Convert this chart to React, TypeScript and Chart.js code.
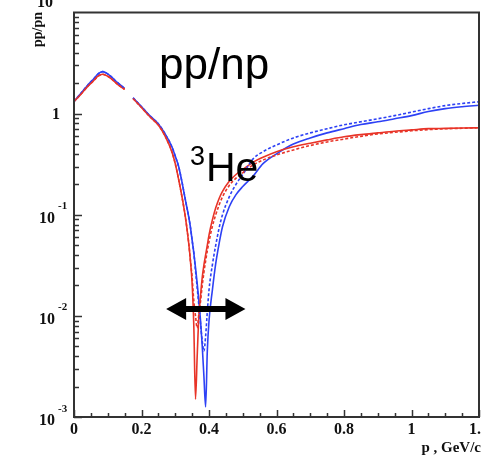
import React, { useEffect, useRef } from "react";
import { Chart, registerables } from "chart.js";

Chart.register(...registerables);

// momentum p (GeV/c)
const momentum = [
  0, 0.02, 0.04, 0.06, 0.07, 0.085, 0.1, 0.11, 0.13, 0.15, 0.16, 0.175,
  0.2, 0.225, 0.25, 0.27, 0.29, 0.30, 0.31, 0.32, 0.33, 0.34,
  0.345, 0.35, 0.355, 0.36, 0.365, 0.37, 0.375, 0.38, 0.385, 0.39,
  0.395, 0.40, 0.41, 0.42, 0.43, 0.44, 0.46, 0.48, 0.50, 0.53,
  0.56, 0.60, 0.65, 0.70, 0.75, 0.80, 0.85, 0.90, 0.95, 1.0,
  1.05, 1.1, 1.15, 1.2,
];

const redSolid = [
  1.32, 1.55, 1.85, 2.15, 2.33, 2.45, 2.34, 2.22, 1.94, 1.74, null, 1.41,
  1.15, 0.93, 0.77, 0.60, 0.42, 0.32, 0.224, 0.15, 0.095, 0.052,
  0.035, 0.021, 0.0079, 0.0015, 0.004, 0.01, 0.016, 0.024, 0.032, 0.04,
  0.05, 0.063, 0.089, 0.117, 0.145, 0.17, 0.214, 0.25, 0.28, 0.33,
  0.37, 0.42, 0.47, 0.51, 0.55, 0.59, 0.62, 0.645, 0.67, 0.69,
  0.71, 0.715, 0.72, 0.725,
];

const redDashed = [
  1.32, 1.55, 1.85, 2.15, 2.33, 2.45, 2.34, 2.22, 1.94, 1.74, null, 1.41,
  1.15, 0.93, 0.77, 0.60, 0.42, 0.32, 0.224, 0.15, 0.095, 0.052,
  0.035, 0.024, 0.014, 0.01, 0.0076, 0.0105, 0.014, 0.02, 0.027, 0.035,
  0.044, 0.054, 0.077, 0.1, 0.125, 0.15, 0.195, 0.23, 0.26, 0.31,
  0.347, 0.39, 0.437, 0.484, 0.525, 0.56, 0.596, 0.63, 0.653, 0.676,
  0.695, 0.708, 0.716, 0.725,
];

const blueSolid = [
  1.32, 1.58, 1.9, 2.24, 2.45, 2.6, 2.47, 2.32, 2.01, 1.78, null, 1.43,
  1.17, 0.95, 0.79, 0.63, 0.47, 0.38, 0.30, 0.21, 0.14, 0.095,
  0.075, 0.056, 0.042, 0.030, 0.021, 0.014, 0.0089, 0.005, 0.0025, 0.00126,
  0.0045, 0.0089, 0.018, 0.033, 0.052, 0.076, 0.12, 0.158, 0.19, 0.24,
  0.32, 0.40, 0.50, 0.575, 0.645, 0.71, 0.78, 0.83, 0.89, 0.955,
  1.05, 1.12, 1.17, 1.21,
];

const blueDashed = [
  1.32, 1.58, 1.9, 2.24, 2.45, 2.6, 2.47, 2.32, 2.01, 1.78, null, 1.43,
  1.17, 0.95, 0.79, 0.63, 0.47, 0.38, 0.30, 0.21, 0.14, 0.095,
  0.075, 0.056, 0.042, 0.028, 0.019, 0.0126, 0.0083, 0.0056, 0.0045, 0.0063,
  0.011, 0.018, 0.032, 0.05, 0.074, 0.1, 0.15, 0.2, 0.25, 0.355,
  0.42, 0.49, 0.575, 0.645, 0.71, 0.775, 0.83, 0.89, 0.955, 1.035,
  1.12, 1.2, 1.26, 1.31,
];

const xTickValues = [0, 0.2, 0.4, 0.6, 0.8, 1, 1.2];
const xTickLabels = ["0", "0.2", "0.4", "0.6", "0.8", "1", "1.2"];
const yTickValues = [0.001, 0.01, 0.1, 1, 10];
const yTickLabels = ["10^-3", "10^-2", "10^-1", "1", "10"];

const arrowRange = [0.273, 0.508];
const arrowLevel = 0.0117;

const RED = "rgb(232,52,40)";
const BLUE = "rgb(45,65,245)";

const overlay = {
  id: "overlay",
  afterDraw(chart: any) {
    const ctx = chart.ctx as CanvasRenderingContext2D;
    const { left, right, top, bottom } = chart.chartArea;
    const xs = chart.scales.x;
    const ys = chart.scales.y;
    ctx.save();

    // frame
    ctx.strokeStyle = "#333";
    ctx.lineWidth = 2;
    ctx.strokeRect(left, top, right - left, bottom - top);

    // x ticks
    ctx.lineWidth = 1.5;
    for (let i = 0; i <= 24; i++) {
      const px = Math.round(xs.getPixelForValue(i * 0.05)) + 0.5;
      const len = i % 4 === 0 ? 7 : 4;
      ctx.beginPath();
      ctx.moveTo(px, bottom);
      ctx.lineTo(px, bottom - len);
      ctx.stroke();
    }
    // y ticks
    for (let d = -3; d <= 0; d++) {
      for (let m = 1; m <= 9; m++) {
        const v = m * Math.pow(10, d);
        const py = Math.round(ys.getPixelForValue(v)) + 0.5;
        const len = m === 1 ? 8 : 5;
        ctx.beginPath();
        ctx.moveTo(left, py);
        ctx.lineTo(left + len, py);
        ctx.stroke();
      }
    }

    ctx.fillStyle = "#111";
    // x labels
    ctx.font = 'bold 16px "Liberation Serif"';
    ctx.textAlign = "center";
    ctx.textBaseline = "alphabetic";
    xTickValues.forEach((v, i) => {
      ctx.fillText(xTickLabels[i], xs.getPixelForValue(v), 434);
    });
    // x title
    ctx.font = 'bold 15px "Liberation Serif"';
    ctx.textAlign = "right";
    ctx.fillText("p , GeV/c", 481, 452);

    // y labels
    yTickValues.forEach((v, i) => {
      const lab = yTickLabels[i];
      const py = ys.getPixelForValue(v);
      if (lab.includes("^")) {
        const [base, exp] = lab.split("^");
        ctx.font = 'bold 16px "Liberation Serif"';
        ctx.textAlign = "right";
        ctx.fillText(base, 55, py + 8);
        ctx.font = 'bold 11px "Liberation Serif"';
        ctx.textAlign = "left";
        ctx.fillText(exp, 58, py - 5.5);
      } else if (lab === "1") {
        ctx.font = 'bold 16px "Liberation Serif"';
        ctx.textAlign = "right";
        ctx.fillText(lab, 60, py + 5.5);
      } else {
        ctx.font = 'bold 16px "Liberation Serif"';
        ctx.textAlign = "right";
        ctx.fillText(lab, 53, py - 5.5);
      }
    });

    // y title
    ctx.save();
    ctx.translate(42, 12);
    ctx.rotate(-Math.PI / 2);
    ctx.font = 'bold 14px "Liberation Serif"';
    ctx.textAlign = "right";
    ctx.textBaseline = "alphabetic";
    ctx.fillText("pp/pn", 0, 0);
    ctx.restore();

    // annotations
    ctx.fillStyle = "#000";
    ctx.textAlign = "left";
    ctx.font = '44px "Liberation Sans"';
    ctx.fillText("pp/np", 159, 79);
    ctx.font = '27px "Liberation Sans"';
    ctx.fillText("3", 190, 165);
    ctx.font = '41px "Liberation Sans"';
    ctx.fillText("He", 206, 181);

    // double arrow
    const ax1 = xs.getPixelForValue(arrowRange[0]);
    const ax2 = xs.getPixelForValue(arrowRange[1]);
    const ay = ys.getPixelForValue(arrowLevel);
    const head = 20;
    const hh = 11;
    const sh = 3;
    ctx.beginPath();
    ctx.moveTo(ax1, ay);
    ctx.lineTo(ax1 + head, ay - hh);
    ctx.lineTo(ax1 + head, ay - sh);
    ctx.lineTo(ax2 - head, ay - sh);
    ctx.lineTo(ax2 - head, ay - hh);
    ctx.lineTo(ax2, ay);
    ctx.lineTo(ax2 - head, ay + hh);
    ctx.lineTo(ax2 - head, ay + sh);
    ctx.lineTo(ax1 + head, ay + sh);
    ctx.lineTo(ax1 + head, ay + hh);
    ctx.closePath();
    ctx.fill();

    ctx.restore();
  },
};

function series(values: (number | null)[]) {
  return momentum.map((p, i) => ({ x: p, y: values[i] }));
}

export default function App() {
  const ref = useRef<HTMLCanvasElement | null>(null);
  useEffect(() => {
    if (!ref.current) return;
    const common = {
      borderWidth: 1.6,
      pointRadius: 0,
      cubicInterpolationMode: "monotone" as const,
      spanGaps: false,
      fill: false,
    };
    const chart = new Chart(ref.current, {
      type: "line",
      data: {
        datasets: [
          { ...common, label: "red dashed", data: series(redDashed), borderColor: RED, borderDash: [3, 2] },
          { ...common, label: "blue dashed", data: series(blueDashed), borderColor: BLUE, borderDash: [3, 2] },
          { ...common, label: "red solid", data: series(redSolid), borderColor: RED },
          { ...common, label: "blue solid", data: series(blueSolid), borderColor: BLUE },
        ] as any,
      },
      options: {
        animation: false,
        responsive: false,
        devicePixelRatio: 1,
        layout: { padding: { left: 74, right: 2, top: 12.5, bottom: 38 } },
        scales: {
          x: { type: "linear", min: 0, max: 1.2, display: false },
          y: { type: "logarithmic", min: 0.001, max: 10, display: false },
        },
        plugins: { legend: { display: false }, tooltip: { enabled: false } },
      },
      plugins: [overlay],
    });
    return () => chart.destroy();
  }, []);
  return (
    <div style={{ position: "fixed", left: 0, top: 0, width: 481, height: 455, background: "#fff" }}>
      <canvas ref={ref} width={481} height={455} />
    </div>
  );
}
